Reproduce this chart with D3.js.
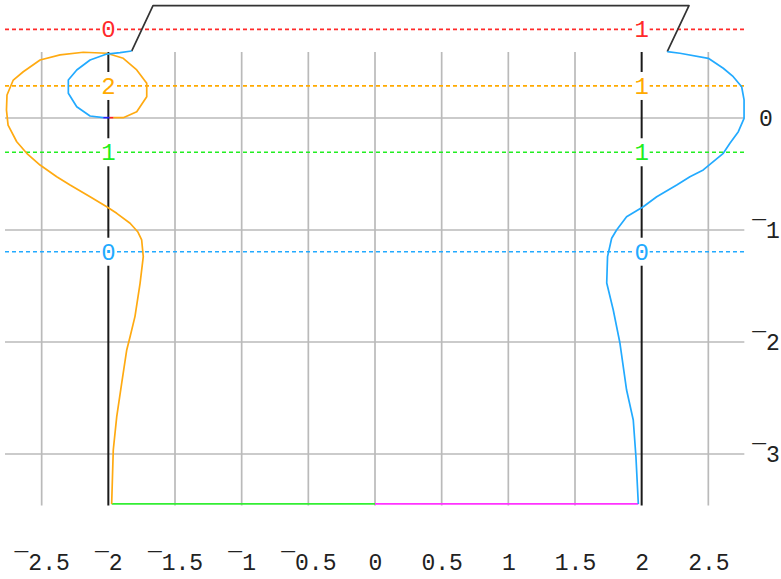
<!DOCTYPE html>
<html>
<head>
<meta charset="utf-8">
<script src="https://cdn.jsdelivr.net/npm/d3@7"></script>
<style>
  body { margin: 0; background: #fff; }
  svg { display: block; }
</style>
</head>
<body>
<svg id="chart" width="781" height="579"></svg>
<script>
// Axis ticks
const xTicks = [-2.5, -2, -1.5, -1, -0.5, 0, 0.5, 1, 1.5, 2, 2.5];
const yTicks = [0, -1, -2, -3];

// Horizontal reference levels and their crossing counts at x = -2 and x = 2
const levelY = [0.792, 0.286, -0.306, -1.194];
const levelColors = ["#ff2a2a", "#ffaa00", "#22ee22", "#22aaff"];
const countsLeft = [0, 2, 1, 0];
const countsRight = [1, 1, 1, 0];
const markerX = [-2, 2];

// Right-hand branch (blue)
const rightBranch = [
  [2.192, 0.592], [2.287, 0.578], [2.500, 0.533], [2.612, 0.444], [2.687, 0.369],
  [2.750, 0.279], [2.768, 0.161], [2.768, -0.003], [2.725, -0.122], [2.662, -0.226],
  [2.612, -0.315], [2.537, -0.390], [2.462, -0.464], [2.362, -0.524], [2.263, -0.598],
  [2.113, -0.703], [2.012, -0.792], [1.887, -0.881], [1.812, -1.000], [1.775, -1.074],
  [1.744, -1.238], [1.738, -1.473], [1.787, -1.714], [1.837, -2.009], [1.887, -2.429],
  [1.937, -2.696], [1.957, -3.024], [1.975, -3.446]
];

// Left-hand branch (orange), from the base up round the outer loop
const leftBranch = [
  [-1.975, -3.446], [-1.963, -2.964], [-1.937, -2.667], [-1.900, -2.369], [-1.862, -2.071],
  [-1.837, -1.953], [-1.800, -1.771], [-1.762, -1.476], [-1.738, -1.238], [-1.750, -1.089],
  [-1.778, -1.018], [-1.837, -0.940], [-1.937, -0.851], [-2.012, -0.792], [-2.137, -0.703],
  [-2.287, -0.598], [-2.387, -0.524], [-2.512, -0.420], [-2.612, -0.315], [-2.687, -0.212],
  [-2.752, -0.063], [-2.764, 0.071], [-2.760, 0.205], [-2.713, 0.339], [-2.638, 0.413],
  [-2.512, 0.518], [-2.362, 0.563], [-2.188, 0.587], [-2.012, 0.578], [-1.888, 0.533],
  [-1.787, 0.429], [-1.712, 0.310], [-1.712, 0.190], [-1.787, 0.056], [-1.888, 0.003],
  [-1.963, 0.003]
];

// Inner loop on the left (blue)
const leftLoop = [
  [-2.038, 0.003], [-2.137, 0.018], [-2.237, 0.101], [-2.300, 0.221], [-2.300, 0.339],
  [-2.237, 0.429], [-2.137, 0.518], [-2.012, 0.571], [-1.912, 0.583], [-1.825, 0.598]
];

// Jump joining the two blue pieces
const jumpPath = [[-1.825, 0.598], [-1.665, 1.003], [2.355, 1.003], [2.192, 0.592]];

// Base segments
const baseLeft = [[-1.975, -3.446], [0, -3.446]];
const baseRight = [[0, -3.446], [1.975, -3.446]];

// Short end pieces meeting at (-2, 0)
const endBlue = [[-2.038, 0.003], [-1.990, 0.003]];
const endRed = [[-1.990, 0.003], [-1.963, 0.003]];

const gridX = [-2.775, 2.77];
const gridY = [0.59, -3.46];

const svg = d3.select("#chart");
const x = d3.scaleLinear().domain([-2.5, 2.5]).range([41.67, 708.33]);
const y = d3.scaleLinear().domain([0, -3]).range([118, 454]);
const line = d3.line().x(d => x(d[0])).y(d => y(d[1]));
const fmt = d => (d < 0 ? "\u00AF" + Math.abs(d) : String(d));
const font = "'Liberation Mono', 'DejaVu Sans Mono', monospace";
const fontSize = 23;

// Grid
const grid = svg.append("g").attr("stroke", "#bababa").attr("stroke-width", 1.7);
grid.selectAll("line.v").data(xTicks.filter(t => Math.abs(t) !== 2)).join("line")
  .attr("class", "v")
  .attr("x1", d => x(d)).attr("x2", d => x(d))
  .attr("y1", y(gridY[0])).attr("y2", y(gridY[1]));
grid.selectAll("line.h").data(yTicks).join("line")
  .attr("class", "h")
  .attr("x1", x(gridX[0])).attr("x2", x(gridX[1]))
  .attr("y1", d => y(d)).attr("y2", d => y(d));

// Black marker verticals at x = ±2
svg.append("g").selectAll("line").data(markerX).join("line")
  .attr("x1", d => x(d)).attr("x2", d => x(d))
  .attr("y1", y(gridY[0])).attr("y2", y(gridY[1]))
  .attr("stroke", "#1a1a1a").attr("stroke-width", 2);

// Dashed levels
svg.append("g").selectAll("line").data(levelY).join("line")
  .attr("x1", x(gridX[0])).attr("x2", x(gridX[1]))
  .attr("y1", d => y(d)).attr("y2", d => y(d))
  .attr("stroke", (d, i) => levelColors[i])
  .attr("stroke-width", 1.7)
  .attr("stroke-dasharray", "4,3");

// Curves
const curves = [
  { pts: jumpPath, color: "#333333" },
  { pts: baseLeft, color: "#33ee33" },
  { pts: baseRight, color: "#ff33ff" },
  { pts: leftBranch, color: "#ffaa11" },
  { pts: leftLoop, color: "#22aaff" },
  { pts: rightBranch, color: "#22aaff" },
  { pts: endBlue, color: "#2020ff" },
  { pts: endRed, color: "#ff2020" }
];
svg.append("g").selectAll("path").data(curves).join("path")
  .attr("d", d => line(d.pts))
  .attr("fill", "none")
  .attr("stroke", d => d.color)
  .attr("stroke-width", 1.7)
  .attr("stroke-linejoin", "round");

// Crossing-count labels on each level at x = ±2
const labels = [];
levelY.forEach((ly, i) => {
  labels.push({ x: markerX[0], y: ly, t: countsLeft[i], c: levelColors[i] });
  labels.push({ x: markerX[1], y: ly, t: countsRight[i], c: levelColors[i] });
});
const lg = svg.append("g").selectAll("g").data(labels).join("g")
  .attr("transform", d => `translate(${x(d.x)},${y(d.y)})`);
lg.append("rect").attr("x", -8).attr("y", -14).attr("width", 16).attr("height", 28).attr("fill", "#fff");
lg.append("text")
  .attr("text-anchor", "middle").attr("dy", "0.34em")
  .attr("font-family", font).attr("font-size", 24)
  .attr("fill", d => d.c)
  .text(d => d.t);

// Axes
const ax = svg.append("g").attr("transform", "translate(0,554)")
  .call(d3.axisBottom(x).tickValues(xTicks).tickSize(0).tickPadding(0).tickFormat(fmt));
ax.select(".domain").remove();
ax.selectAll("text").attr("font-family", font).attr("font-size", fontSize).attr("fill", "#222");

const ay = svg.append("g").attr("transform", "translate(766,0)")
  .call(d3.axisRight(y).tickValues(yTicks).tickSize(0).tickPadding(0).tickFormat(fmt));
ay.select(".domain").remove();
ay.selectAll("text").attr("x", 0).attr("text-anchor", "middle")
  .attr("font-family", font).attr("font-size", fontSize).attr("fill", "#222");
</script>
</body>
</html>
